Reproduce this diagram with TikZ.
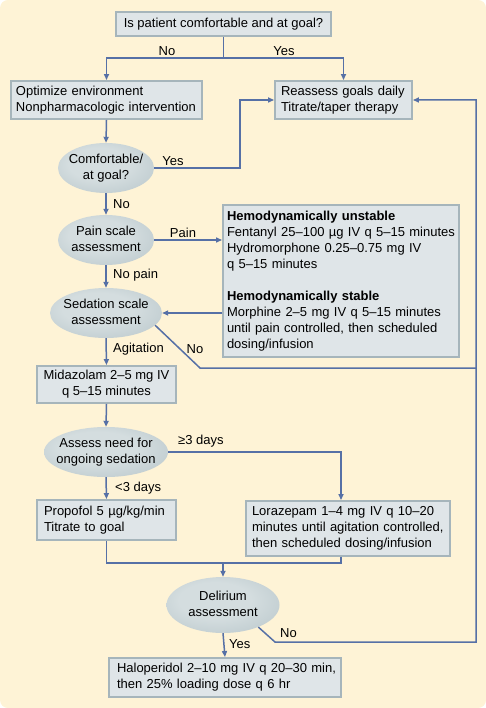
\documentclass[tikz,border=0pt]{standalone}
\usepackage{fontspec}
\setmainfont{Liberation Sans}
\usetikzlibrary{shapes.geometric,arrows.meta}
\definecolor{bg}{RGB}{254,243,214}
\definecolor{boxfill}{RGB}{223,229,232}
\definecolor{boxline}{RGB}{166,181,187}
\definecolor{ellin}{RGB}{212,221,223}
\definecolor{ellmid}{RGB}{184,198,202}
\definecolor{ellout}{RGB}{140,161,168}
\definecolor{lineblue}{RGB}{86,112,166}
\pgfdeclareradialshading{ellshade}{\pgfpoint{-5bp}{6bp}}{color(0bp)=(ellin); color(16bp)=(ellin); color(38bp)=(ellmid); color(56bp)=(ellout)}
\newcommand{\etext}[1]{\makebox[0pt]{\begin{tabular}{@{}c@{}}#1\end{tabular}}}
\tikzset{
 fs/.style={font=\fontsize{13}{16}\selectfont},
 box/.style={draw=boxline, line width=2.4pt, fill=boxfill, inner ysep=0pt, fs},
 lbox/.style={box, align=left},
 cbox/.style={box, align=center},
 ell/.style={ellipse, inner sep=0pt, shading=ellshade, fs},
 conn/.style={draw=lineblue, line width=1.5pt},
 arr/.style={conn, -{Triangle[length=6pt,width=5pt]}},
 lbl/.style={inner sep=0pt, fs, anchor=west},
}
\begin{document}
\begin{tikzpicture}[x=1pt,y=-1pt]
\useasboundingbox (0,0) rectangle (486,708);
\fill[bg, rounded corners=8pt] (0,0) rectangle (486,708);

% boxes
\node[cbox, minimum width=214.5pt, minimum height=23.5pt] (top) at (223.5,24) {Is patient comfortable and at goal?};
\node[lbox, inner xsep=4.75pt, text width=181pt, minimum height=37.5pt] (opt) at (106.5,100) {Optimize environment\\\mbox{Nonpharmacologic intervention}};
\node[lbox, inner xsep=5.75pt, text width=125pt, minimum height=37.5pt] (reas) at (343.5,100) {Reassess goals daily\\Titrate/taper therapy};
\node[lbox, inner xsep=3.75pt, text width=228pt, minimum height=151.5pt] (hemo) at (341,281) {\textbf{Hemodynamically unstable}\\\mbox{Fentanyl 25–100 µg IV q 5–15 minutes}\\Hydromorphone 0.25–0.75 mg IV\\q 5–15 minutes\\[16pt]\textbf{Hemodynamically stable}\\\mbox{Morphine 2–5 mg IV q 5–15 minutes}\\\mbox{until pain controlled, then scheduled}\\dosing/infusion};
\node[cbox, minimum width=138.5pt, minimum height=36.5pt] (mid) at (106.5,384.5) {Midazolam 2–5 mg IV\\q 5–15 minutes};
\node[lbox, inner xsep=6.75pt, text width=125pt, minimum height=39.5pt] (prop) at (106.5,520) {Propofol 5 µg/kg/min\\Titrate to goal};
\node[lbox, inner xsep=5.75pt, text width=192pt, minimum height=54.5pt] (lora) at (348,528.5) {\mbox{Lorazepam 1–4 mg IV q 10–20}\\\mbox{minutes until agitation controlled,}\\\mbox{then scheduled dosing/infusion}};
\node[lbox, inner xsep=7.75pt, text width=216pt, minimum height=38.5pt] (halo) at (225,677.5) {\mbox{Haloperidol 2–10 mg IV q 20–30 min,}\\\mbox{then 25\% loading dose q 6 hr}};

% ellipses
\node[ell, minimum width=96pt, minimum height=50pt] (comf) at (106,168) {\etext{Comfortable/\\at goal?}};
\node[ell, minimum width=96pt, minimum height=50pt] (pain) at (106,240) {\etext{Pain scale\\assessment}};
\node[ell, minimum width=112pt, minimum height=50pt] (sed) at (106,313) {\etext{Sedation scale\\assessment}};
\node[ell, minimum width=124pt, minimum height=50pt] (asse) at (106,452) {\etext{Assess need for\\ongoing sedation}};
\node[ell, minimum width=113pt, minimum height=56pt] (deli) at (223,605) {\etext{Delirium\\assessment}};

% coordinates
\coordinate (split) at (223.5,58);
\coordinate (c1) at (240,168);
\coordinate (s1) at (200,368);
\coordinate (s2) at (476,368);
\coordinate (d1) at (275,642);
\coordinate (d2) at (476,642);
\coordinate (m) at (223,563);

% connectors
\draw[conn] (top.south) -- (split);
\draw[arr] (split) -| (opt.north);
\draw[arr] (split) -| (reas.north);
\draw[arr] (opt.south) -- (comf.north);
\draw[arr] (comf.east) -- (c1) |- (reas.west);
\draw[arr] (comf.south) -- (pain.north);
\draw[arr] (pain.east) -- (pain.east -| hemo.west);
\draw[arr] (sed.east -| hemo.west) -- (sed.east);
\draw[arr] (pain.south) -- (sed.north);
\draw[arr] (sed.south) -- (mid.north);
\draw[conn] (sed.-14) -- (s1) -- (s2);
\draw[arr] (mid.south) -- (asse.north);
\draw[arr] (asse.east) -| ([xshift=-7pt]lora.north);
\draw[arr] (asse.south) -- (prop.north);
\draw[conn] (prop.south) |- (m);
\draw[conn] ([xshift=-7pt]lora.south) |- (m);
\draw[arr] (m) -- (deli.north);
\draw[arr] (deli.south) -- (halo.north);
\draw[arr] (deli.-32) -- (d1) -- (d2) |- (reas.east);

% labels
\node[lbl, anchor=center] (lNo1) at (167,51) {No};
\node[lbl, anchor=center] (lYes1) at (284,51) {Yes};
\node[lbl, anchor=center] (lYes2) at (173,161) {Yes};
\node[lbl] (lNo2) at (113,204) {No};
\node[lbl, anchor=center] (lPain) at (183,233) {Pain};
\node[lbl] (lNoPain) at (113,275) {No pain};
\node[lbl] (lAg) at (113,349) {Agitation};
\node[lbl, anchor=center] (lNo3) at (195,349) {No};
\node[lbl] (lge) at (178,441) {≥3 days};
\node[lbl] (llt) at (115,488) {<3 days};
\node[lbl] (lYes3) at (229,644) {Yes};
\node[lbl] (lNo4) at (280,633) {No};
\end{tikzpicture}
\end{document}
